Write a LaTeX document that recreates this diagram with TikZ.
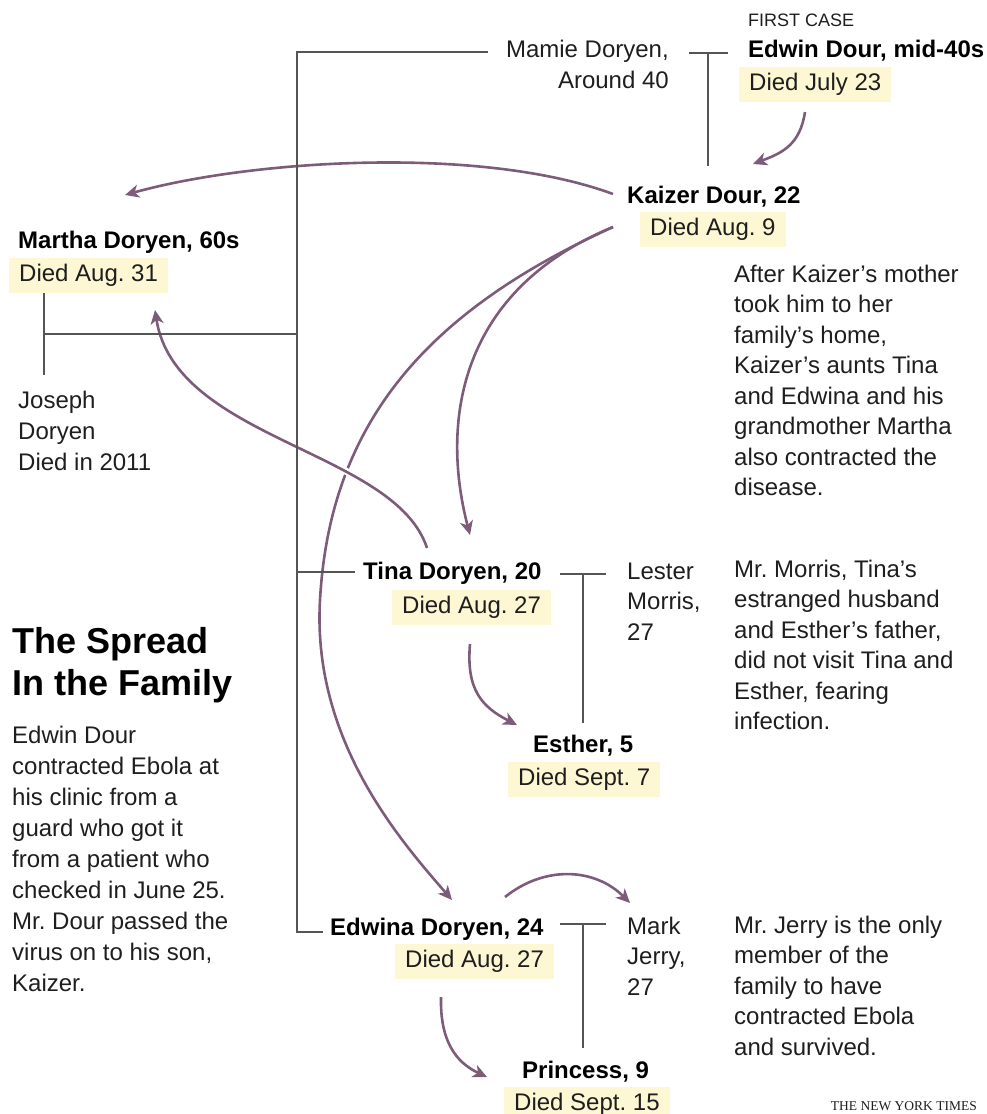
\documentclass[tikz,border=0pt]{standalone}
\usepackage{fontspec}
\setmainfont{Liberation Sans}
\newfontfamily\creditfont{Liberation Serif}
\usepackage{tikz}
\usetikzlibrary{positioning,arrows.meta}
\frenchspacing
\definecolor{spreadcolor}{RGB}{125, 92, 122}
\definecolor{diedcolor}{RGB}{253, 247, 212}
\definecolor{kincolor}{RGB}{85, 85, 85}
\definecolor{textcolor}{RGB}{30, 30, 30}
\tikzset{
    person/.style={anchor=base west, inner sep=0pt, font=\fontsize{24}{31}\selectfont\bfseries},
    died/.style={anchor=base west, fill=diedcolor, inner xsep=10pt, inner ysep=0pt, text height=23pt, text depth=12pt, text=textcolor, font=\fontsize{24}{31}\selectfont},
    relative/.style={anchor=base west, inner sep=0pt, align=left, text=textcolor, font=\fontsize{24}{30.5}\selectfont},
    note/.style={anchor=base west, inner sep=0pt, align=left, text=textcolor, font=\fontsize{24}{30.5}\selectfont},
    heading/.style={anchor=base west, inner sep=0pt, align=left, font=\fontsize{36}{42}\selectfont\bfseries},
    kin line/.style={draw=kincolor, line width=1.4pt},
    spread arrow/.style={draw=spreadcolor, line width=2.6pt, -{Stealth[length=14pt, width=13pt, inset=4pt]}}
}

\begin{document}
\begin{tikzpicture}[x=1pt, y=-1pt]
\useasboundingbox (0,0) rectangle (987,1114);

% the family (multi-line nodes sit on their last line)
\node[anchor=base west, inner sep=0pt, text=textcolor, font=\fontsize{18}{20}\selectfont] (firstcase) at (748,26) {FIRST CASE};
\node[person] (edwin) at (748,57) {Edwin Dour, mid-40s};
\node[died] (edwinDied) at (739,90) {Died July 23};
\node[relative, anchor=base east, align=right, font=\fontsize{24}{31}\selectfont] (mamie) at (669,88) {Mamie Doryen,\\Around 40};
\node[person] (kaizer) at (627,203) {Kaizer Dour, 22};
\node[died] (kaizerDied) at (640,235) {Died Aug. 9};
\node[person] (martha) at (18,248) {Martha Doryen, 60s};
\node[died] (marthaDied) at (9,281) {Died Aug. 31};
\node[relative, font=\fontsize{24}{31}\selectfont] (joseph) at (18,470) {Joseph\\Doryen\\Died in 2011};
\node[person] (tina) at (363,579) {Tina Doryen, 20};
\node[died] (tinaDied) at (392,613) {Died Aug. 27};
\node[relative] (lester) at (627,640) {Lester\\Morris,\\27};
\node[person] (esther) at (533,752) {Esther, 5};
\node[died] (estherDied) at (508,785) {Died Sept. 7};
\node[person] (edwina) at (330,935) {Edwina Doryen, 24};
\node[died] (edwinaDied) at (395,967) {Died Aug. 27};
\node[relative] (mark) at (627,995) {Mark\\Jerry,\\27};
\node[person] (princess) at (522,1078) {Princess, 9};
\node[died] (princessDied) at (504,1110) {Died Sept. 15};

% notes
\node[note] (kaizerNote) at (734,495.5) {After Kaizer’s mother\\took him to her\\family’s home,\\Kaizer’s aunts Tina\\and Edwina and his\\grandmother Martha\\also contracted the\\disease.};
\node[note] (morrisNote) at (734,729.5) {Mr. Morris, Tina’s\\estranged husband\\and Esther’s father,\\did not visit Tina and\\Esther, fearing\\infection.};
\node[note] (jerryNote) at (734,1055) {Mr. Jerry is the only\\member of the\\family to have\\contracted Ebola\\and survived.};
\node[heading] (title) at (12,695) {The Spread\\In the Family};
\node[note, font=\fontsize{24}{31}\selectfont] (intro) at (12,991) {Edwin Dour\\contracted Ebola at\\his clinic from a\\guard who got it\\from a patient who\\checked in June 25.\\Mr. Dour passed the\\virus on to his son,\\Kaizer.};
\node[anchor=base east, inner sep=0pt, text=textcolor, font=\creditfont\fontsize{13.5}{15}\selectfont] (credit) at (977,1110) {THE NEW YORK TIMES};

% how it spread
\draw[spread arrow] ([shift={(66,22)}]edwinDied.base west) .. controls (800,145) and (782,153) .. ([shift={(126,-39)}]kaizer.base west);
\draw[spread arrow] ([shift={(-14,-9)}]kaizer.base west) .. controls (480,145) and (250,160) .. ([shift={(107,-53)}]martha.base west);
\draw[spread arrow] ([shift={(-27,-8)}]kaizerDied.base west) .. controls (460,290) and (440,420) .. ([shift={(107,-44)}]tina.base west);
\draw[spread arrow] ([shift={(-27,-8)}]kaizerDied.base west) .. controls (430,310) and (330,420) .. (320,600) .. controls (312,740) and (400,840) .. ([shift={(122,-35)}]edwina.base west);
\draw[spread arrow, preaction={draw=white, line width=7pt, -}] ([shift={(64,-31)}]tina.base west) .. controls (395,450) and (175,440) .. ([shift={(146,29)}]marthaDied.base west);
\draw[spread arrow] ([shift={(78,31)}]tinaDied.base west) .. controls (466,690) and (482,707) .. ([shift={(-16,-27)}]esther.base west);
\draw[spread arrow] ([shift={(175,-38)}]edwina.base west) .. controls (545,865) and (595,868) .. ([shift={(3,-92)}]mark.base west);
\draw[spread arrow] ([shift={(46,30)}]edwinaDied.base west) .. controls (440,1040) and (455,1062) .. ([shift={(-35,-1)}]princess.base west);

% family lines
\coordinate (trunk top) at (297,52);
\coordinate (trunk bottom) at (297,932);
\coordinate (mamie edwin) at (708,53);
\coordinate (martha joseph) at (44,334);
\draw[kin line] ([shift={(-18,-36)}]mamie.base west) -- (trunk top) -- (trunk bottom) -- ([shift={(-7,-3)}]edwina.base west);
\draw[kin line] ([shift={(20,-35)}]mamie.base east) -- ([shift={(-20,-4)}]edwin.base west);
\draw[kin line] (mamie edwin) -- ([shift={(81,-37)}]kaizer.base west);
\draw[kin line] ([shift={(35,12)}]marthaDied.base west) -- ([shift={(26,-95)}]joseph.base west);
\draw[kin line] (martha joseph) -- (trunk top |- martha joseph);
\draw[kin line] ([shift={(-8,-7)}]tina.base west) -- ++(-58,0);
\draw[kin line] ([shift={(-67,-66)}]lester.base west) -- ([shift={(-21,-66)}]lester.base west);
\draw[kin line] ([shift={(-44,-66)}]lester.base west) -- ([shift={(50,-29)}]esther.base west);
\draw[kin line] ([shift={(-67,-71)}]mark.base west) -- ([shift={(-21,-71)}]mark.base west);
\draw[kin line] ([shift={(-44,-71)}]mark.base west) -- ([shift={(61,-30)}]princess.base west);
\end{tikzpicture}
\end{document}
